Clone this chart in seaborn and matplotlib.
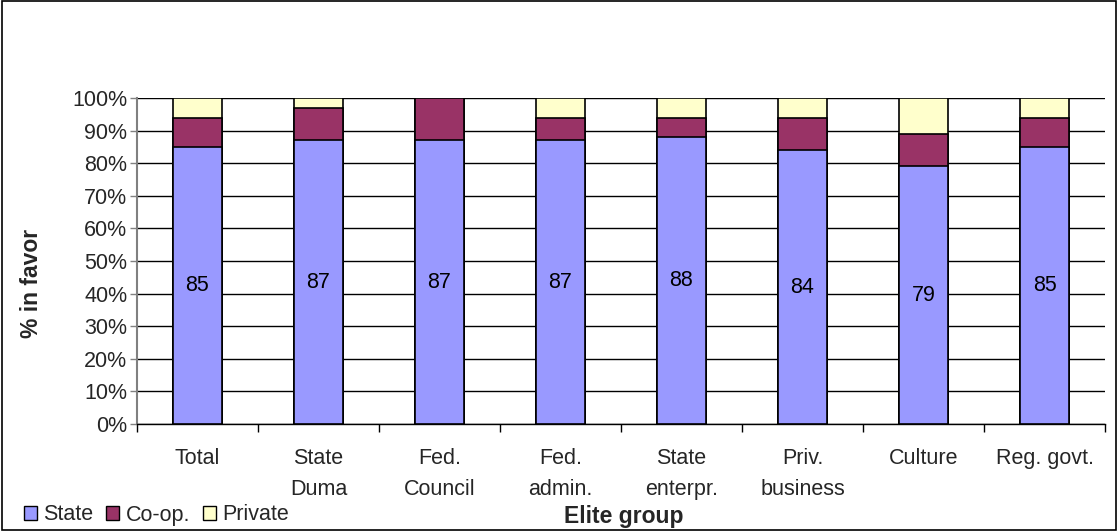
import matplotlib
matplotlib.use("Agg")
import matplotlib.pyplot as plt
import seaborn as sns
import pandas as pd
import numpy as np
from matplotlib.patches import Patch

groups = ["Total", "State\nDuma", "Fed.\nCouncil", "Fed.\nadmin.", "State\nenterpr.",
          "Priv.\nbusiness", "Culture", "Reg. govt."]
state = [85, 87, 87, 87, 88, 84, 79, 85]
coop = [9, 10, 13, 7, 6, 10, 10, 9]
private = [6, 3, 0, 6, 6, 6, 11, 6]
yticks = list(range(0, 101, 10))

c_state = "#9999FF"
c_coop = "#993366"
c_priv = "#FFFFCC"

sns.set_theme(style="white")
plt.rcParams['font.family'] = ['Liberation Sans', 'DejaVu Sans']

FS = 15.5
TFS = 16.5

df = pd.DataFrame({"group": groups, "state": state, "coop": coop, "private": private})
df["c2"] = df["state"] + df["coop"]
df["c3"] = df["c2"] + df["private"]

fig = plt.figure(figsize=(11.18, 5.31), dpi=100)
ax = fig.add_axes([137/1118, 1-424/531, 968/1118, 326/531])

kw = dict(x="group", order=groups, width=0.4, edgecolor="black", linewidth=1.2, ax=ax, zorder=3)
sns.barplot(data=df, y="c3", color=c_priv, saturation=1, **kw)
sns.barplot(data=df, y="c2", color=c_coop, saturation=1, **kw)
sns.barplot(data=df, y="state", color=c_state, saturation=1, **kw)

ax.bar_label(ax.containers[-1], labels=[str(v) for v in state], label_type="center",
             fontsize=FS, color="black")

ax.set_ylim(0, 100)
ax.set_xlim(-0.5, len(groups) - 0.5)
ax.set_yticks(yticks)
ax.set_yticklabels([f"{v}%" for v in yticks], fontsize=FS)
ax.yaxis.grid(True, color="black", linewidth=1)
ax.set_axisbelow(True)
ax.tick_params(axis="y", which="major", left=True, length=5, width=1, color="#808080", pad=2)
ax.set_xticks(range(len(groups)))
ax.set_xticklabels(groups, fontsize=FS, linespacing=1.65, va="top")
ax.tick_params(axis="x", which="major", bottom=False, pad=11)
ax.set_xticks(np.arange(-0.5, len(groups), 1), minor=True)
ax.tick_params(axis="x", which="minor", bottom=True, length=6, width=1, color="black")

for s in ["top", "right"]:
    ax.spines[s].set_visible(False)
ax.spines["left"].set_color("#808080")
ax.spines["left"].set_linewidth(1.5)
ax.spines["bottom"].set_color("black")
ax.spines["bottom"].set_linewidth(1)

ax.set_xlabel("Elite group", fontsize=TFS, fontweight="bold", va="center")
ax.xaxis.set_label_coords((624-137)/968, (424-516)/326)
ax.set_ylabel("% in favor", fontsize=TFS, fontweight="bold", va="center")
ax.yaxis.set_label_coords((31-137)/968, (424-283)/326)

handles = [Patch(facecolor=c, edgecolor="black", linewidth=1) for c in (c_state, c_coop, c_priv)]
fig.legend(handles, ["State", "Co-op.", "Private"], loc="center left",
           bbox_to_anchor=(0.008, 1 - 515/531), ncol=3, frameon=False, fontsize=FS,
           handlelength=0.6, handleheight=0.6, handletextpad=0.3, columnspacing=0.6,
           borderpad=0.2)

border = plt.Rectangle((0.002, 0.002), 0.996, 0.996, transform=fig.transFigure,
                       fill=False, edgecolor="black", linewidth=1.2)
fig.patches.append(border)

fig.savefig("out.png", dpi=100)
